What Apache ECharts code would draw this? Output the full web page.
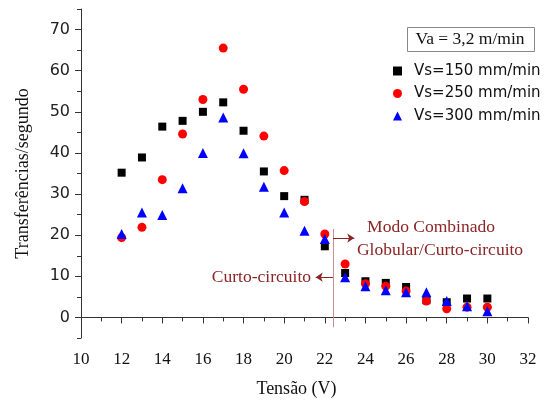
<!DOCTYPE html>
<html>
<head>
<meta charset="utf-8">
<script src="https://cdn.jsdelivr.net/npm/echarts@6/dist/echarts.min.js"></script>
<style>
  html, body { margin: 0; padding: 0; background: #fff; }
  #chart { width: 546px; height: 403px; }
</style>
</head>
<body>
<div id="chart"></div>
<script>
// data
const voltages = [12, 13, 14, 15, 16, 17, 18, 19, 20, 21, 22, 23, 24, 25, 26, 27, 28, 29, 30];
const vs150 = [35.2, 38.9, 46.4, 47.8, 50.0, 52.3, 45.4, 35.5, 29.5, 28.6, 17.3, 10.8, 8.8, 8.4, 7.4, 4.2, 3.7, 4.6, 4.6];
const vs250 = [19.4, 21.9, 33.5, 44.6, 53.0, 65.5, 55.5, 44.1, 35.7, 28.2, 20.3, 13.0, 8.2, 7.6, 6.4, 4.0, 2.1, 2.5, 2.5];
const vs300 = [20.3, 25.5, 24.9, 31.4, 40.0, 48.6, 39.9, 31.8, 25.5, 21.1, 19.1, 9.8, 7.6, 6.6, 6.1, 6.1, 4.0, 2.7, 1.5];
const yTickLabels = ['-5', '0', '5', '10', '15', '20', '25', '30', '35', '40', '45', '50', '55', '60', '65', '70', '75'];
const seriesNames = ['Vs=150 mm/min', 'Vs=250 mm/min', 'Vs=300 mm/min'];

const serif = '"Liberation Serif", "DejaVu Serif", serif';
const sans = '"DejaVu Sans", "Liberation Sans", sans-serif';
const annotColor = '#8b2525';

function pairs(ys) {
    return voltages.map((x, i) => [x, ys[i]]);
}

const chart = echarts.init(document.getElementById('chart'));
chart.setOption({
    animation: false,
    backgroundColor: '#fff',
    grid: { left: 81, right: 18, top: 9, bottom: 64 },
    xAxis: {
        type: 'value',
        min: 10,
        max: 32,
        interval: 2,
        name: 'Tensão (V)',
        nameLocation: 'middle',
        nameGap: 42,
        nameTextStyle: { fontFamily: serif, fontSize: 18, color: '#111', padding: [0, 16, 0, 0] },
        axisLine: { lineStyle: { color: '#333', width: 1 } },
        axisTick: { length: 6, lineStyle: { color: '#333' } },
        minorTick: { show: true, splitNumber: 2, length: 4, lineStyle: { color: '#333' } },
        axisLabel: { fontFamily: serif, fontSize: 17, color: '#111', margin: 13 },
        splitLine: { show: false }
    },
    yAxis: [
        {
            type: 'value',
            min: -5,
            max: 75,
            interval: 5,
            position: 'left',
            axisLine: { show: true, lineStyle: { color: '#333', width: 1 } },
            axisTick: { show: true, length: 4, lineStyle: { color: '#333' } },
            axisLabel: { show: false },
            splitLine: { show: false }
        },
        {
            // major ticks and labels every 10
            type: 'category',
            data: yTickLabels,
            boundaryGap: false,
            position: 'left',
            name: 'Transferências/segundo',
            nameLocation: 'middle',
            nameGap: 49,
            nameTextStyle: { fontFamily: serif, fontSize: 18, color: '#111' },
            axisLine: { show: false },
            axisTick: { show: true, length: 6, interval: i => i % 2 === 1, lineStyle: { color: '#333' } },
            axisLabel: { show: true, interval: i => i % 2 === 1, fontFamily: sans, fontSize: 16, color: '#222', margin: 11 },
            splitLine: { show: false }
        }
    ],
    legend: {
        orient: 'vertical',
        left: 388,
        top: 58,
        itemWidth: 9,
        itemHeight: 9,
        itemGap: 6.5,
        data: [
            { name: seriesNames[0], icon: 'rect' },
            { name: seriesNames[1], icon: 'circle' },
            { name: seriesNames[2], icon: 'triangle' }
        ],
        textStyle: { fontFamily: sans, fontSize: 15, color: '#111', lineHeight: 16, padding: [0, 0, 0, 7] }
    },
    series: [
        {
            name: seriesNames[0],
            type: 'scatter',
            symbol: 'rect',
            symbolSize: 8,
            itemStyle: { color: '#000', opacity: 1 },
            data: pairs(vs150),
            markLine: {
                silent: true,
                symbol: ['none', 'arrow'],
                symbolSize: [7, 7],
                label: { show: false },
                lineStyle: { color: annotColor, width: 1, type: 'solid' },
                data: [
                    [
                        { coord: [22.4, -2.4], symbol: 'none', lineStyle: { color: '#c89090' } },
                        { coord: [22.4, 21.5], symbol: 'none' }
                    ],
                    [{ coord: [22.4, 19.3] }, { coord: [23.45, 19.3] }],
                    [{ coord: [22.4, 9.8] }, { coord: [21.55, 9.8] }]
                ]
            }
        },
        {
            name: seriesNames[1],
            type: 'scatter',
            symbol: 'circle',
            symbolSize: 9,
            itemStyle: { color: '#ff0000', opacity: 1 },
            data: pairs(vs250)
        },
        {
            name: seriesNames[2],
            type: 'scatter',
            symbol: 'triangle',
            symbolSize: 10,
            itemStyle: { color: '#0000ff', opacity: 1 },
            data: pairs(vs300)
        }
    ],
    graphic: [
        {
            type: 'rect',
            left: 407,
            top: 27,
            shape: { width: 127, height: 24 },
            style: { fill: '#fff', stroke: '#888', lineWidth: 1 }
        },
        {
            type: 'text',
            x: 470,
            y: 39,
            style: { text: 'Va = 3,2 m/min', font: '17.5px ' + serif, fill: '#111', align: 'center', verticalAlign: 'middle' }
        },
        {
            type: 'text',
            x: 431,
            y: 227,
            style: { text: 'Modo Combinado', font: '17.5px ' + serif, fill: annotColor, align: 'center', verticalAlign: 'middle' }
        },
        {
            type: 'text',
            x: 440,
            y: 250,
            style: { text: 'Globular/Curto-circuito', font: '17.5px ' + serif, fill: annotColor, align: 'center', verticalAlign: 'middle' }
        },
        {
            type: 'text',
            x: 311,
            y: 277,
            style: { text: 'Curto-circuito', font: '17.5px ' + serif, fill: annotColor, align: 'right', verticalAlign: 'middle' }
        }
    ]
});
</script>
</body>
</html>
